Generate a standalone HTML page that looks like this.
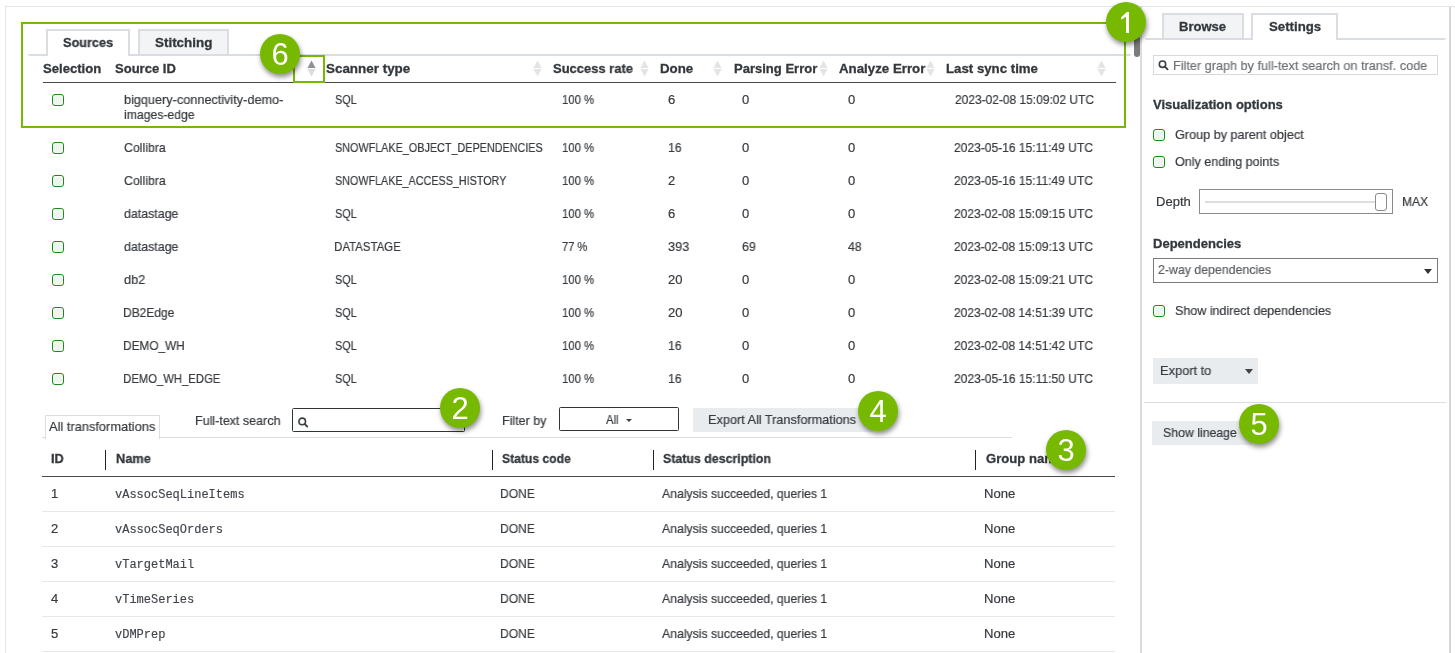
<!DOCTYPE html>
<html><head><meta charset="utf-8"><style>
html,body{margin:0;padding:0;background:#fff;width:1455px;height:653px;overflow:hidden;position:relative}
</style></head><body>
<div style="position:absolute;left:5px;top:6px;width:1450px;height:1px;background:#e1e4e8"></div>
<div style="position:absolute;left:5px;top:6px;width:1px;height:647px;background:#e1e4e8"></div>
<div style="position:absolute;left:1140px;top:6px;width:2px;height:647px;background:#d9dcdf"></div>
<div style="position:absolute;left:1449px;top:7px;width:2px;height:646px;background:#d4d7da"></div>
<div style="position:absolute;left:28px;top:54px;width:1103px;height:2px;background:#dadde1;border-radius:0 0 2px 2px"></div>
<div style="position:absolute;left:46px;top:29px;width:80px;height:25px;border:2px solid #dadde1;border-bottom:none;background:#fff"></div>
<div style="position:absolute;left:138px;top:29px;width:87px;height:23px;border:2px solid #dadde1;border-bottom:none;background:#f3f4f6"></div>
<div style="position:absolute;left:43px;top:82px;width:1073px;height:1px;background:#454a4f"></div>
<svg style="position:absolute;left:533.2px;top:60px" width="9" height="17" viewBox="0 0 9 17"><polygon points="0.4,8 4.5,0.4 8.6,8" fill="#e4e4e4"/><polygon points="0.4,9 4.5,16.6 8.6,9" fill="#e4e4e4"/></svg>
<svg style="position:absolute;left:639.5px;top:60px" width="9" height="17" viewBox="0 0 9 17"><polygon points="0.4,8 4.5,0.4 8.6,8" fill="#e4e4e4"/><polygon points="0.4,9 4.5,16.6 8.6,9" fill="#e4e4e4"/></svg>
<svg style="position:absolute;left:713.2px;top:60px" width="9" height="17" viewBox="0 0 9 17"><polygon points="0.4,8 4.5,0.4 8.6,8" fill="#e4e4e4"/><polygon points="0.4,9 4.5,16.6 8.6,9" fill="#e4e4e4"/></svg>
<svg style="position:absolute;left:819.3px;top:60px" width="9" height="17" viewBox="0 0 9 17"><polygon points="0.4,8 4.5,0.4 8.6,8" fill="#e4e4e4"/><polygon points="0.4,9 4.5,16.6 8.6,9" fill="#e4e4e4"/></svg>
<svg style="position:absolute;left:925.5px;top:60px" width="9" height="17" viewBox="0 0 9 17"><polygon points="0.4,8 4.5,0.4 8.6,8" fill="#e4e4e4"/><polygon points="0.4,9 4.5,16.6 8.6,9" fill="#e4e4e4"/></svg>
<svg style="position:absolute;left:1096.5px;top:60px" width="9" height="17" viewBox="0 0 9 17"><polygon points="0.4,8 4.5,0.4 8.6,8" fill="#e4e4e4"/><polygon points="0.4,9 4.5,16.6 8.6,9" fill="#e4e4e4"/></svg>
<svg style="position:absolute;left:306.5px;top:60px" width="9" height="17" viewBox="0 0 9 17"><polygon points="0.4,8 4.5,0.4 8.6,8" fill="#8e9296"/><polygon points="0.4,9 4.5,16.6 8.6,9" fill="#dcdcdc"/></svg>
<div style="position:absolute;left:52px;top:94px;width:10px;height:10px;border:1px solid #148f14;border-radius:3px;background:#eef4ee;box-shadow:inset 0 0 0 1px #fff"></div>
<div style="position:absolute;left:52px;top:142px;width:10px;height:10px;border:1px solid #148f14;border-radius:3px;background:#eef4ee;box-shadow:inset 0 0 0 1px #fff"></div>
<div style="position:absolute;left:52px;top:175px;width:10px;height:10px;border:1px solid #148f14;border-radius:3px;background:#eef4ee;box-shadow:inset 0 0 0 1px #fff"></div>
<div style="position:absolute;left:52px;top:208px;width:10px;height:10px;border:1px solid #148f14;border-radius:3px;background:#eef4ee;box-shadow:inset 0 0 0 1px #fff"></div>
<div style="position:absolute;left:52px;top:241px;width:10px;height:10px;border:1px solid #148f14;border-radius:3px;background:#eef4ee;box-shadow:inset 0 0 0 1px #fff"></div>
<div style="position:absolute;left:52px;top:274px;width:10px;height:10px;border:1px solid #148f14;border-radius:3px;background:#eef4ee;box-shadow:inset 0 0 0 1px #fff"></div>
<div style="position:absolute;left:52px;top:307px;width:10px;height:10px;border:1px solid #148f14;border-radius:3px;background:#eef4ee;box-shadow:inset 0 0 0 1px #fff"></div>
<div style="position:absolute;left:52px;top:340px;width:10px;height:10px;border:1px solid #148f14;border-radius:3px;background:#eef4ee;box-shadow:inset 0 0 0 1px #fff"></div>
<div style="position:absolute;left:52px;top:373px;width:10px;height:10px;border:1px solid #148f14;border-radius:3px;background:#eef4ee;box-shadow:inset 0 0 0 1px #fff"></div>
<div style="position:absolute;left:21px;top:22px;width:1101px;height:102px;border:2px solid #76b900"></div>
<div style="position:absolute;left:293px;top:55px;width:28px;height:24px;border:2px solid #76b900"></div>
<div style="position:absolute;left:42px;top:437px;width:970px;height:1px;background:#dadde1"></div>
<div style="position:absolute;left:45px;top:415px;width:113px;height:23px;border:1px solid #dadde1;border-bottom:none;background:#fff"></div>
<div style="position:absolute;left:292px;top:408px;width:171px;height:22px;border:1px solid #30353a;border-radius:1.5px;background:#fff"></div>
<svg style="position:absolute;left:297px;top:417px" width="12" height="12" viewBox="0 0 12 12"><circle cx="5.2" cy="4.4" r="3.3" fill="none" stroke="#3a3f44" stroke-width="1.6"/><line x1="7.6" y1="6.9" x2="10.2" y2="9.5" stroke="#3a3f44" stroke-width="1.8" stroke-linecap="round"/></svg>
<div style="position:absolute;left:559px;top:407px;width:118px;height:22px;border:1px solid #30353a;border-radius:1.5px;background:#fff"></div>
<svg style="position:absolute;left:626px;top:419px" width="6" height="3" viewBox="0 0 6 3"><polygon points="0,0 6,0 3,3" fill="#3d4247"/></svg>
<div style="position:absolute;left:693px;top:408px;width:180px;height:24px;background:#e9ecef"></div>
<div style="position:absolute;left:105px;top:450px;width:1px;height:20px;background:#222"></div>
<div style="position:absolute;left:492px;top:450px;width:1px;height:20px;background:#222"></div>
<div style="position:absolute;left:653px;top:450px;width:1px;height:20px;background:#222"></div>
<div style="position:absolute;left:975px;top:450px;width:1px;height:20px;background:#222"></div>
<div style="position:absolute;left:42px;top:476px;width:1073px;height:1px;background:#454a4f"></div>
<div style="position:absolute;left:42px;top:511px;width:1073px;height:1px;background:#e6e8eb"></div>
<div style="position:absolute;left:42px;top:546px;width:1073px;height:1px;background:#e6e8eb"></div>
<div style="position:absolute;left:42px;top:581px;width:1073px;height:1px;background:#e6e8eb"></div>
<div style="position:absolute;left:42px;top:616px;width:1073px;height:1px;background:#e6e8eb"></div>
<div style="position:absolute;left:42px;top:651px;width:1073px;height:1px;background:#e6e8eb"></div>
<div style="position:absolute;left:1145px;top:38px;width:301px;height:2px;background:#dadde1;border-radius:0 0 2px 2px"></div>
<div style="position:absolute;left:1162px;top:13px;width:78px;height:23px;border:2px solid #dadde1;border-bottom:none;background:#f3f4f6"></div>
<div style="position:absolute;left:1251px;top:13px;width:83px;height:25px;border:2px solid #dadde1;border-bottom:none;background:#fff"></div>
<div style="position:absolute;left:1153px;top:55px;width:283px;height:18px;border:1px solid #d6dadd;background:#fff"></div>
<svg style="position:absolute;left:1158px;top:60px" width="12" height="12" viewBox="0 0 12 12"><circle cx="4.5" cy="4.15" r="3.2" fill="none" stroke="#3a3f44" stroke-width="1.6"/><line x1="6.9" y1="6.6" x2="9.6" y2="9.3" stroke="#3a3f44" stroke-width="1.8" stroke-linecap="round"/></svg>
<div style="position:absolute;left:1153px;top:129px;width:10px;height:10px;border:1px solid #148f14;border-radius:3px;background:#eef4ee;box-shadow:inset 0 0 0 1px #fff"></div>
<div style="position:absolute;left:1153px;top:156px;width:10px;height:10px;border:1px solid #148f14;border-radius:3px;background:#eef4ee;box-shadow:inset 0 0 0 1px #fff"></div>
<div style="position:absolute;left:1199px;top:189px;width:192px;height:23px;border:1px solid #8a8a8a;background:#fff"></div>
<div style="position:absolute;left:1205px;top:201px;width:172px;height:2px;background:#dedede"></div>
<div style="position:absolute;left:1375px;top:193px;width:10px;height:16px;border:1px solid #8a8a8a;border-radius:3px;background:#fff"></div>
<div style="position:absolute;left:1153px;top:258px;width:283px;height:23px;border:1px solid #7a7a7a;background:#fff"></div>
<svg style="position:absolute;left:1424px;top:269px" width="8" height="5" viewBox="0 0 8 5"><polygon points="0,0 8,0 4,5" fill="#333"/></svg>
<div style="position:absolute;left:1153px;top:305px;width:10px;height:10px;border:1px solid #148f14;border-radius:3px;background:#eef4ee;box-shadow:inset 0 0 0 1px #fff"></div>
<div style="position:absolute;left:1153px;top:358px;width:105px;height:26px;background:#e9ecef"></div>
<svg style="position:absolute;left:1245px;top:369px" width="8" height="5" viewBox="0 0 8 5"><polygon points="0,0 8,0 4,5" fill="#444"/></svg>
<div style="position:absolute;left:1144px;top:402px;width:302px;height:1px;background:#d8dde2"></div>
<div style="position:absolute;left:1152px;top:421px;width:100px;height:24px;background:#e9ecef"></div>
<div style="position:absolute;left:1134px;top:36px;width:6px;height:21px;background:#7b7b7b;border-radius:3px"></div>
<div style="position:absolute;left:62.60px;top:35.00px;font:bold 13px/16px 'Liberation Sans', sans-serif;color:#33383d;white-space:nowrap;will-change:transform;-webkit-text-stroke:0.3px currentColor;transform:scaleX(0.9790);transform-origin:0.00px 0;">Sources</div>
<div style="position:absolute;left:154.70px;top:35.00px;font:bold 13px/16px 'Liberation Sans', sans-serif;color:#33383d;white-space:nowrap;will-change:transform;-webkit-text-stroke:0.3px currentColor;transform:scaleX(1.0312);transform-origin:0.00px 0;">Stitching</div>
<div style="position:absolute;left:42.80px;top:61.00px;font:bold 13px/16px 'Liberation Sans', sans-serif;color:#33383d;white-space:nowrap;will-change:transform;-webkit-text-stroke:0.3px currentColor;transform:scaleX(1.0077);transform-origin:0.00px 0;">Selection</div>
<div style="position:absolute;left:115.00px;top:61.00px;font:bold 13px/16px 'Liberation Sans', sans-serif;color:#33383d;white-space:nowrap;will-change:transform;-webkit-text-stroke:0.3px currentColor;transform:scaleX(1.0017);transform-origin:0.00px 0;">Source ID</div>
<div style="position:absolute;left:326.10px;top:61.00px;font:bold 13px/16px 'Liberation Sans', sans-serif;color:#33383d;white-space:nowrap;will-change:transform;-webkit-text-stroke:0.3px currentColor;transform:scaleX(1.0318);transform-origin:0.00px 0;">Scanner type</div>
<div style="position:absolute;left:552.90px;top:61.00px;font:bold 13px/16px 'Liberation Sans', sans-serif;color:#33383d;white-space:nowrap;will-change:transform;-webkit-text-stroke:0.3px currentColor;transform:scaleX(0.9964);transform-origin:0.00px 0;">Success rate</div>
<div style="position:absolute;left:659.60px;top:61.00px;font:bold 13px/16px 'Liberation Sans', sans-serif;color:#33383d;white-space:nowrap;will-change:transform;-webkit-text-stroke:0.3px currentColor;transform:scaleX(1.0226);transform-origin:0.00px 0;">Done</div>
<div style="position:absolute;left:733.80px;top:61.00px;font:bold 13px/16px 'Liberation Sans', sans-serif;color:#33383d;white-space:nowrap;will-change:transform;-webkit-text-stroke:0.3px currentColor;transform:scaleX(1.0021);transform-origin:0.00px 0;">Parsing Error</div>
<div style="position:absolute;left:839.00px;top:61.00px;font:bold 13px/16px 'Liberation Sans', sans-serif;color:#33383d;white-space:nowrap;will-change:transform;-webkit-text-stroke:0.3px currentColor;transform:scaleX(1.0216);transform-origin:0.00px 0;">Analyze Error</div>
<div style="position:absolute;left:946.00px;top:61.00px;font:bold 13px/16px 'Liberation Sans', sans-serif;color:#33383d;white-space:nowrap;will-change:transform;-webkit-text-stroke:0.3px currentColor;transform:scaleX(1.0179);transform-origin:0.00px 0;">Last sync time</div>
<div style="position:absolute;left:124.20px;top:92.00px;font:normal 13px/16px 'Liberation Sans', sans-serif;color:#363a3f;white-space:nowrap;will-change:transform;-webkit-text-stroke:0.2px currentColor;transform:scaleX(0.9757);transform-origin:0.00px 0;">bigquery-connectivity-demo-</div>
<div style="position:absolute;left:124.20px;top:107.00px;font:normal 13px/16px 'Liberation Sans', sans-serif;color:#363a3f;white-space:nowrap;will-change:transform;-webkit-text-stroke:0.2px currentColor;transform:scaleX(0.9383);transform-origin:0.00px 0;">images-edge</div>
<div style="position:absolute;left:335.00px;top:92.00px;font:normal 13px/16px 'Liberation Sans', sans-serif;color:#363a3f;white-space:nowrap;will-change:transform;-webkit-text-stroke:0.2px currentColor;transform:scaleX(0.8339);transform-origin:0.00px 0;">SQL</div>
<div style="position:absolute;left:562.40px;top:92.00px;font:normal 13px/16px 'Liberation Sans', sans-serif;color:#363a3f;white-space:nowrap;will-change:transform;-webkit-text-stroke:0.2px currentColor;transform:scaleX(0.8713);transform-origin:0.00px 0;">100 %</div>
<div style="position:absolute;left:668.40px;top:92.00px;font:normal 13px/16px 'Liberation Sans', sans-serif;color:#363a3f;white-space:nowrap;will-change:transform;-webkit-text-stroke:0.2px currentColor;">6</div>
<div style="position:absolute;left:742.20px;top:92.00px;font:normal 13px/16px 'Liberation Sans', sans-serif;color:#363a3f;white-space:nowrap;will-change:transform;-webkit-text-stroke:0.2px currentColor;">0</div>
<div style="position:absolute;left:848.20px;top:92.00px;font:normal 13px/16px 'Liberation Sans', sans-serif;color:#363a3f;white-space:nowrap;will-change:transform;-webkit-text-stroke:0.2px currentColor;">0</div>
<div style="position:absolute;left:954.50px;top:92.00px;font:normal 13px/16px 'Liberation Sans', sans-serif;color:#363a3f;white-space:nowrap;will-change:transform;-webkit-text-stroke:0.2px currentColor;transform:scaleX(0.9200);transform-origin:0.00px 0;">2023-02-08 15:09:02 UTC</div>
<div style="position:absolute;left:124.20px;top:140.00px;font:normal 13px/16px 'Liberation Sans', sans-serif;color:#363a3f;white-space:nowrap;will-change:transform;-webkit-text-stroke:0.2px currentColor;transform:scaleX(0.9478);transform-origin:0.00px 0;">Collibra</div>
<div style="position:absolute;left:335.00px;top:140.00px;font:normal 13px/16px 'Liberation Sans', sans-serif;color:#363a3f;white-space:nowrap;will-change:transform;-webkit-text-stroke:0.2px currentColor;transform:scaleX(0.8311);transform-origin:0.00px 0;">SNOWFLAKE_OBJECT_DEPENDENCIES</div>
<div style="position:absolute;left:562.40px;top:140.00px;font:normal 13px/16px 'Liberation Sans', sans-serif;color:#363a3f;white-space:nowrap;will-change:transform;-webkit-text-stroke:0.2px currentColor;transform:scaleX(0.8713);transform-origin:0.00px 0;">100 %</div>
<div style="position:absolute;left:667.90px;top:140.00px;font:normal 13px/16px 'Liberation Sans', sans-serif;color:#363a3f;white-space:nowrap;will-change:transform;-webkit-text-stroke:0.2px currentColor;transform:scaleX(0.9417);transform-origin:0.00px 0;">16</div>
<div style="position:absolute;left:742.20px;top:140.00px;font:normal 13px/16px 'Liberation Sans', sans-serif;color:#363a3f;white-space:nowrap;will-change:transform;-webkit-text-stroke:0.2px currentColor;">0</div>
<div style="position:absolute;left:848.20px;top:140.00px;font:normal 13px/16px 'Liberation Sans', sans-serif;color:#363a3f;white-space:nowrap;will-change:transform;-webkit-text-stroke:0.2px currentColor;">0</div>
<div style="position:absolute;left:954.40px;top:140.00px;font:normal 13px/16px 'Liberation Sans', sans-serif;color:#363a3f;white-space:nowrap;will-change:transform;-webkit-text-stroke:0.2px currentColor;transform:scaleX(0.9259);transform-origin:0.00px 0;">2023-05-16 15:11:49 UTC</div>
<div style="position:absolute;left:124.20px;top:173.00px;font:normal 13px/16px 'Liberation Sans', sans-serif;color:#363a3f;white-space:nowrap;will-change:transform;-webkit-text-stroke:0.2px currentColor;transform:scaleX(0.9478);transform-origin:0.00px 0;">Collibra</div>
<div style="position:absolute;left:335.00px;top:173.00px;font:normal 13px/16px 'Liberation Sans', sans-serif;color:#363a3f;white-space:nowrap;will-change:transform;-webkit-text-stroke:0.2px currentColor;transform:scaleX(0.8282);transform-origin:0.00px 0;">SNOWFLAKE_ACCESS_HISTORY</div>
<div style="position:absolute;left:562.40px;top:173.00px;font:normal 13px/16px 'Liberation Sans', sans-serif;color:#363a3f;white-space:nowrap;will-change:transform;-webkit-text-stroke:0.2px currentColor;transform:scaleX(0.8713);transform-origin:0.00px 0;">100 %</div>
<div style="position:absolute;left:667.90px;top:173.00px;font:normal 13px/16px 'Liberation Sans', sans-serif;color:#363a3f;white-space:nowrap;will-change:transform;-webkit-text-stroke:0.2px currentColor;">2</div>
<div style="position:absolute;left:742.20px;top:173.00px;font:normal 13px/16px 'Liberation Sans', sans-serif;color:#363a3f;white-space:nowrap;will-change:transform;-webkit-text-stroke:0.2px currentColor;">0</div>
<div style="position:absolute;left:848.20px;top:173.00px;font:normal 13px/16px 'Liberation Sans', sans-serif;color:#363a3f;white-space:nowrap;will-change:transform;-webkit-text-stroke:0.2px currentColor;">0</div>
<div style="position:absolute;left:954.40px;top:173.00px;font:normal 13px/16px 'Liberation Sans', sans-serif;color:#363a3f;white-space:nowrap;will-change:transform;-webkit-text-stroke:0.2px currentColor;transform:scaleX(0.9259);transform-origin:0.00px 0;">2023-05-16 15:11:49 UTC</div>
<div style="position:absolute;left:124.20px;top:206.00px;font:normal 13px/16px 'Liberation Sans', sans-serif;color:#363a3f;white-space:nowrap;will-change:transform;-webkit-text-stroke:0.2px currentColor;transform:scaleX(0.9530);transform-origin:0.00px 0;">datastage</div>
<div style="position:absolute;left:335.00px;top:206.00px;font:normal 13px/16px 'Liberation Sans', sans-serif;color:#363a3f;white-space:nowrap;will-change:transform;-webkit-text-stroke:0.2px currentColor;transform:scaleX(0.8339);transform-origin:0.00px 0;">SQL</div>
<div style="position:absolute;left:562.40px;top:206.00px;font:normal 13px/16px 'Liberation Sans', sans-serif;color:#363a3f;white-space:nowrap;will-change:transform;-webkit-text-stroke:0.2px currentColor;transform:scaleX(0.8713);transform-origin:0.00px 0;">100 %</div>
<div style="position:absolute;left:667.90px;top:206.00px;font:normal 13px/16px 'Liberation Sans', sans-serif;color:#363a3f;white-space:nowrap;will-change:transform;-webkit-text-stroke:0.2px currentColor;">6</div>
<div style="position:absolute;left:742.20px;top:206.00px;font:normal 13px/16px 'Liberation Sans', sans-serif;color:#363a3f;white-space:nowrap;will-change:transform;-webkit-text-stroke:0.2px currentColor;">0</div>
<div style="position:absolute;left:848.20px;top:206.00px;font:normal 13px/16px 'Liberation Sans', sans-serif;color:#363a3f;white-space:nowrap;will-change:transform;-webkit-text-stroke:0.2px currentColor;">0</div>
<div style="position:absolute;left:954.40px;top:206.00px;font:normal 13px/16px 'Liberation Sans', sans-serif;color:#363a3f;white-space:nowrap;will-change:transform;-webkit-text-stroke:0.2px currentColor;transform:scaleX(0.9200);transform-origin:0.00px 0;">2023-02-08 15:09:15 UTC</div>
<div style="position:absolute;left:124.20px;top:239.00px;font:normal 13px/16px 'Liberation Sans', sans-serif;color:#363a3f;white-space:nowrap;will-change:transform;-webkit-text-stroke:0.2px currentColor;transform:scaleX(0.9530);transform-origin:0.00px 0;">datastage</div>
<div style="position:absolute;left:334.00px;top:239.00px;font:normal 13px/16px 'Liberation Sans', sans-serif;color:#363a3f;white-space:nowrap;will-change:transform;-webkit-text-stroke:0.2px currentColor;transform:scaleX(0.8780);transform-origin:1.00px 0;">DATASTAGE</div>
<div style="position:absolute;left:562.40px;top:239.00px;font:normal 13px/16px 'Liberation Sans', sans-serif;color:#363a3f;white-space:nowrap;will-change:transform;-webkit-text-stroke:0.2px currentColor;transform:scaleX(0.8546);transform-origin:0.00px 0;">77 %</div>
<div style="position:absolute;left:667.90px;top:239.00px;font:normal 13px/16px 'Liberation Sans', sans-serif;color:#363a3f;white-space:nowrap;will-change:transform;-webkit-text-stroke:0.2px currentColor;transform:scaleX(0.9786);transform-origin:0.00px 0;">393</div>
<div style="position:absolute;left:742.20px;top:239.00px;font:normal 13px/16px 'Liberation Sans', sans-serif;color:#363a3f;white-space:nowrap;will-change:transform;-webkit-text-stroke:0.2px currentColor;transform:scaleX(0.9557);transform-origin:0.00px 0;">69</div>
<div style="position:absolute;left:848.20px;top:239.00px;font:normal 13px/16px 'Liberation Sans', sans-serif;color:#363a3f;white-space:nowrap;will-change:transform;-webkit-text-stroke:0.2px currentColor;transform:scaleX(0.9417);transform-origin:0.00px 0;">48</div>
<div style="position:absolute;left:954.40px;top:239.00px;font:normal 13px/16px 'Liberation Sans', sans-serif;color:#363a3f;white-space:nowrap;will-change:transform;-webkit-text-stroke:0.2px currentColor;transform:scaleX(0.9200);transform-origin:0.00px 0;">2023-02-08 15:09:13 UTC</div>
<div style="position:absolute;left:124.20px;top:272.00px;font:normal 13px/16px 'Liberation Sans', sans-serif;color:#363a3f;white-space:nowrap;will-change:transform;-webkit-text-stroke:0.2px currentColor;transform:scaleX(0.9786);transform-origin:0.00px 0;">db2</div>
<div style="position:absolute;left:335.00px;top:272.00px;font:normal 13px/16px 'Liberation Sans', sans-serif;color:#363a3f;white-space:nowrap;will-change:transform;-webkit-text-stroke:0.2px currentColor;transform:scaleX(0.8339);transform-origin:0.00px 0;">SQL</div>
<div style="position:absolute;left:562.40px;top:272.00px;font:normal 13px/16px 'Liberation Sans', sans-serif;color:#363a3f;white-space:nowrap;will-change:transform;-webkit-text-stroke:0.2px currentColor;transform:scaleX(0.8713);transform-origin:0.00px 0;">100 %</div>
<div style="position:absolute;left:667.90px;top:272.00px;font:normal 13px/16px 'Liberation Sans', sans-serif;color:#363a3f;white-space:nowrap;will-change:transform;-webkit-text-stroke:0.2px currentColor;transform:scaleX(0.9979);transform-origin:0.00px 0;">20</div>
<div style="position:absolute;left:742.20px;top:272.00px;font:normal 13px/16px 'Liberation Sans', sans-serif;color:#363a3f;white-space:nowrap;will-change:transform;-webkit-text-stroke:0.2px currentColor;">0</div>
<div style="position:absolute;left:848.20px;top:272.00px;font:normal 13px/16px 'Liberation Sans', sans-serif;color:#363a3f;white-space:nowrap;will-change:transform;-webkit-text-stroke:0.2px currentColor;">0</div>
<div style="position:absolute;left:954.40px;top:272.00px;font:normal 13px/16px 'Liberation Sans', sans-serif;color:#363a3f;white-space:nowrap;will-change:transform;-webkit-text-stroke:0.2px currentColor;transform:scaleX(0.9200);transform-origin:0.00px 0;">2023-02-08 15:09:21 UTC</div>
<div style="position:absolute;left:123.20px;top:305.00px;font:normal 13px/16px 'Liberation Sans', sans-serif;color:#363a3f;white-space:nowrap;will-change:transform;-webkit-text-stroke:0.2px currentColor;transform:scaleX(0.9188);transform-origin:1.00px 0;">DB2Edge</div>
<div style="position:absolute;left:335.00px;top:305.00px;font:normal 13px/16px 'Liberation Sans', sans-serif;color:#363a3f;white-space:nowrap;will-change:transform;-webkit-text-stroke:0.2px currentColor;transform:scaleX(0.8339);transform-origin:0.00px 0;">SQL</div>
<div style="position:absolute;left:562.40px;top:305.00px;font:normal 13px/16px 'Liberation Sans', sans-serif;color:#363a3f;white-space:nowrap;will-change:transform;-webkit-text-stroke:0.2px currentColor;transform:scaleX(0.8713);transform-origin:0.00px 0;">100 %</div>
<div style="position:absolute;left:667.90px;top:305.00px;font:normal 13px/16px 'Liberation Sans', sans-serif;color:#363a3f;white-space:nowrap;will-change:transform;-webkit-text-stroke:0.2px currentColor;transform:scaleX(0.9979);transform-origin:0.00px 0;">20</div>
<div style="position:absolute;left:742.20px;top:305.00px;font:normal 13px/16px 'Liberation Sans', sans-serif;color:#363a3f;white-space:nowrap;will-change:transform;-webkit-text-stroke:0.2px currentColor;">0</div>
<div style="position:absolute;left:848.20px;top:305.00px;font:normal 13px/16px 'Liberation Sans', sans-serif;color:#363a3f;white-space:nowrap;will-change:transform;-webkit-text-stroke:0.2px currentColor;">0</div>
<div style="position:absolute;left:954.40px;top:305.00px;font:normal 13px/16px 'Liberation Sans', sans-serif;color:#363a3f;white-space:nowrap;will-change:transform;-webkit-text-stroke:0.2px currentColor;transform:scaleX(0.9200);transform-origin:0.00px 0;">2023-02-08 14:51:39 UTC</div>
<div style="position:absolute;left:123.20px;top:338.00px;font:normal 13px/16px 'Liberation Sans', sans-serif;color:#363a3f;white-space:nowrap;will-change:transform;-webkit-text-stroke:0.2px currentColor;transform:scaleX(0.9068);transform-origin:1.00px 0;">DEMO_WH</div>
<div style="position:absolute;left:335.00px;top:338.00px;font:normal 13px/16px 'Liberation Sans', sans-serif;color:#363a3f;white-space:nowrap;will-change:transform;-webkit-text-stroke:0.2px currentColor;transform:scaleX(0.8339);transform-origin:0.00px 0;">SQL</div>
<div style="position:absolute;left:562.40px;top:338.00px;font:normal 13px/16px 'Liberation Sans', sans-serif;color:#363a3f;white-space:nowrap;will-change:transform;-webkit-text-stroke:0.2px currentColor;transform:scaleX(0.8713);transform-origin:0.00px 0;">100 %</div>
<div style="position:absolute;left:667.90px;top:338.00px;font:normal 13px/16px 'Liberation Sans', sans-serif;color:#363a3f;white-space:nowrap;will-change:transform;-webkit-text-stroke:0.2px currentColor;transform:scaleX(0.9417);transform-origin:0.00px 0;">16</div>
<div style="position:absolute;left:742.20px;top:338.00px;font:normal 13px/16px 'Liberation Sans', sans-serif;color:#363a3f;white-space:nowrap;will-change:transform;-webkit-text-stroke:0.2px currentColor;">0</div>
<div style="position:absolute;left:848.20px;top:338.00px;font:normal 13px/16px 'Liberation Sans', sans-serif;color:#363a3f;white-space:nowrap;will-change:transform;-webkit-text-stroke:0.2px currentColor;">0</div>
<div style="position:absolute;left:954.40px;top:338.00px;font:normal 13px/16px 'Liberation Sans', sans-serif;color:#363a3f;white-space:nowrap;will-change:transform;-webkit-text-stroke:0.2px currentColor;transform:scaleX(0.9200);transform-origin:0.00px 0;">2023-02-08 14:51:42 UTC</div>
<div style="position:absolute;left:123.20px;top:371.00px;font:normal 13px/16px 'Liberation Sans', sans-serif;color:#363a3f;white-space:nowrap;will-change:transform;-webkit-text-stroke:0.2px currentColor;transform:scaleX(0.8680);transform-origin:1.00px 0;">DEMO_WH_EDGE</div>
<div style="position:absolute;left:335.00px;top:371.00px;font:normal 13px/16px 'Liberation Sans', sans-serif;color:#363a3f;white-space:nowrap;will-change:transform;-webkit-text-stroke:0.2px currentColor;transform:scaleX(0.8339);transform-origin:0.00px 0;">SQL</div>
<div style="position:absolute;left:562.40px;top:371.00px;font:normal 13px/16px 'Liberation Sans', sans-serif;color:#363a3f;white-space:nowrap;will-change:transform;-webkit-text-stroke:0.2px currentColor;transform:scaleX(0.8713);transform-origin:0.00px 0;">100 %</div>
<div style="position:absolute;left:667.90px;top:371.00px;font:normal 13px/16px 'Liberation Sans', sans-serif;color:#363a3f;white-space:nowrap;will-change:transform;-webkit-text-stroke:0.2px currentColor;transform:scaleX(0.9417);transform-origin:0.00px 0;">16</div>
<div style="position:absolute;left:742.20px;top:371.00px;font:normal 13px/16px 'Liberation Sans', sans-serif;color:#363a3f;white-space:nowrap;will-change:transform;-webkit-text-stroke:0.2px currentColor;">0</div>
<div style="position:absolute;left:848.20px;top:371.00px;font:normal 13px/16px 'Liberation Sans', sans-serif;color:#363a3f;white-space:nowrap;will-change:transform;-webkit-text-stroke:0.2px currentColor;">0</div>
<div style="position:absolute;left:954.40px;top:371.00px;font:normal 13px/16px 'Liberation Sans', sans-serif;color:#363a3f;white-space:nowrap;will-change:transform;-webkit-text-stroke:0.2px currentColor;transform:scaleX(0.9259);transform-origin:0.00px 0;">2023-05-16 15:11:50 UTC</div>
<div style="position:absolute;left:48.80px;top:419.00px;font:normal 13px/16px 'Liberation Sans', sans-serif;color:#363a3f;white-space:nowrap;will-change:transform;-webkit-text-stroke:0.2px currentColor;transform:scaleX(0.9866);transform-origin:0.00px 0;">All transformations</div>
<div style="position:absolute;left:194.50px;top:413.00px;font:normal 13px/16px 'Liberation Sans', sans-serif;color:#363a3f;white-space:nowrap;will-change:transform;-webkit-text-stroke:0.2px currentColor;transform:scaleX(0.9608);transform-origin:1.00px 0;">Full-text search</div>
<div style="position:absolute;left:501.60px;top:413.00px;font:normal 13px/16px 'Liberation Sans', sans-serif;color:#363a3f;white-space:nowrap;will-change:transform;-webkit-text-stroke:0.2px currentColor;transform:scaleX(0.9600);transform-origin:1.00px 0;">Filter by</div>
<div style="position:absolute;left:606.00px;top:412.00px;font:normal 13px/16px 'Liberation Sans', sans-serif;color:#363a3f;white-space:nowrap;will-change:transform;-webkit-text-stroke:0.2px currentColor;transform:scaleX(0.8723);transform-origin:0.00px 0;">All</div>
<div style="position:absolute;left:707.60px;top:412.00px;font:normal 13px/16px 'Liberation Sans', sans-serif;color:#363a3f;white-space:nowrap;will-change:transform;-webkit-text-stroke:0.2px currentColor;transform:scaleX(0.9752);transform-origin:1.00px 0;">Export All Transformations</div>
<div style="position:absolute;left:50.60px;top:451.00px;font:bold 13px/16px 'Liberation Sans', sans-serif;color:#33383d;white-space:nowrap;will-change:transform;-webkit-text-stroke:0.3px currentColor;transform:scaleX(0.9832);transform-origin:0.00px 0;">ID</div>
<div style="position:absolute;left:115.60px;top:451.00px;font:bold 13px/16px 'Liberation Sans', sans-serif;color:#33383d;white-space:nowrap;will-change:transform;-webkit-text-stroke:0.3px currentColor;transform:scaleX(0.9836);transform-origin:0.00px 0;">Name</div>
<div style="position:absolute;left:501.90px;top:451.00px;font:bold 13px/16px 'Liberation Sans', sans-serif;color:#33383d;white-space:nowrap;will-change:transform;-webkit-text-stroke:0.3px currentColor;transform:scaleX(0.9339);transform-origin:0.00px 0;">Status code</div>
<div style="position:absolute;left:663.00px;top:451.00px;font:bold 13px/16px 'Liberation Sans', sans-serif;color:#33383d;white-space:nowrap;will-change:transform;-webkit-text-stroke:0.3px currentColor;transform:scaleX(0.9518);transform-origin:0.00px 0;">Status description</div>
<div style="position:absolute;left:985.60px;top:451.00px;font:bold 13px/16px 'Liberation Sans', sans-serif;color:#33383d;white-space:nowrap;will-change:transform;-webkit-text-stroke:0.3px currentColor;transform:scaleX(1.0087);transform-origin:0.00px 0;">Group name</div>
<div style="position:absolute;left:51.30px;top:486.00px;font:normal 13px/16px 'Liberation Sans', sans-serif;color:#363a3f;white-space:nowrap;will-change:transform;-webkit-text-stroke:0.2px currentColor;">1</div>
<div style="position:absolute;left:115.30px;top:487.00px;font:normal 12px/16px 'Liberation Mono', monospace;color:#3f444a;white-space:nowrap;will-change:transform;-webkit-text-stroke:0.15px currentColor;">vAssocSeqLineItems</div>
<div style="position:absolute;left:500.40px;top:486.00px;font:normal 13px/16px 'Liberation Sans', sans-serif;color:#363a3f;white-space:nowrap;will-change:transform;-webkit-text-stroke:0.2px currentColor;transform:scaleX(0.9217);transform-origin:1.00px 0;">DONE</div>
<div style="position:absolute;left:662.30px;top:486.00px;font:normal 13px/16px 'Liberation Sans', sans-serif;color:#363a3f;white-space:nowrap;will-change:transform;-webkit-text-stroke:0.2px currentColor;transform:scaleX(0.9409);transform-origin:0.00px 0;">Analysis succeeded, queries 1</div>
<div style="position:absolute;left:984.00px;top:486.00px;font:normal 13px/16px 'Liberation Sans', sans-serif;color:#363a3f;white-space:nowrap;will-change:transform;-webkit-text-stroke:0.2px currentColor;transform:scaleX(1.0051);transform-origin:1.00px 0;">None</div>
<div style="position:absolute;left:51.30px;top:521.00px;font:normal 13px/16px 'Liberation Sans', sans-serif;color:#363a3f;white-space:nowrap;will-change:transform;-webkit-text-stroke:0.2px currentColor;">2</div>
<div style="position:absolute;left:115.30px;top:522.00px;font:normal 12px/16px 'Liberation Mono', monospace;color:#3f444a;white-space:nowrap;will-change:transform;-webkit-text-stroke:0.15px currentColor;">vAssocSeqOrders</div>
<div style="position:absolute;left:500.40px;top:521.00px;font:normal 13px/16px 'Liberation Sans', sans-serif;color:#363a3f;white-space:nowrap;will-change:transform;-webkit-text-stroke:0.2px currentColor;transform:scaleX(0.9217);transform-origin:1.00px 0;">DONE</div>
<div style="position:absolute;left:662.30px;top:521.00px;font:normal 13px/16px 'Liberation Sans', sans-serif;color:#363a3f;white-space:nowrap;will-change:transform;-webkit-text-stroke:0.2px currentColor;transform:scaleX(0.9409);transform-origin:0.00px 0;">Analysis succeeded, queries 1</div>
<div style="position:absolute;left:984.00px;top:521.00px;font:normal 13px/16px 'Liberation Sans', sans-serif;color:#363a3f;white-space:nowrap;will-change:transform;-webkit-text-stroke:0.2px currentColor;transform:scaleX(1.0051);transform-origin:1.00px 0;">None</div>
<div style="position:absolute;left:51.30px;top:556.00px;font:normal 13px/16px 'Liberation Sans', sans-serif;color:#363a3f;white-space:nowrap;will-change:transform;-webkit-text-stroke:0.2px currentColor;">3</div>
<div style="position:absolute;left:115.30px;top:557.00px;font:normal 12px/16px 'Liberation Mono', monospace;color:#3f444a;white-space:nowrap;will-change:transform;-webkit-text-stroke:0.15px currentColor;">vTargetMail</div>
<div style="position:absolute;left:500.40px;top:556.00px;font:normal 13px/16px 'Liberation Sans', sans-serif;color:#363a3f;white-space:nowrap;will-change:transform;-webkit-text-stroke:0.2px currentColor;transform:scaleX(0.9217);transform-origin:1.00px 0;">DONE</div>
<div style="position:absolute;left:662.30px;top:556.00px;font:normal 13px/16px 'Liberation Sans', sans-serif;color:#363a3f;white-space:nowrap;will-change:transform;-webkit-text-stroke:0.2px currentColor;transform:scaleX(0.9409);transform-origin:0.00px 0;">Analysis succeeded, queries 1</div>
<div style="position:absolute;left:984.00px;top:556.00px;font:normal 13px/16px 'Liberation Sans', sans-serif;color:#363a3f;white-space:nowrap;will-change:transform;-webkit-text-stroke:0.2px currentColor;transform:scaleX(1.0051);transform-origin:1.00px 0;">None</div>
<div style="position:absolute;left:51.30px;top:591.00px;font:normal 13px/16px 'Liberation Sans', sans-serif;color:#363a3f;white-space:nowrap;will-change:transform;-webkit-text-stroke:0.2px currentColor;">4</div>
<div style="position:absolute;left:115.30px;top:592.00px;font:normal 12px/16px 'Liberation Mono', monospace;color:#3f444a;white-space:nowrap;will-change:transform;-webkit-text-stroke:0.15px currentColor;">vTimeSeries</div>
<div style="position:absolute;left:500.40px;top:591.00px;font:normal 13px/16px 'Liberation Sans', sans-serif;color:#363a3f;white-space:nowrap;will-change:transform;-webkit-text-stroke:0.2px currentColor;transform:scaleX(0.9217);transform-origin:1.00px 0;">DONE</div>
<div style="position:absolute;left:662.30px;top:591.00px;font:normal 13px/16px 'Liberation Sans', sans-serif;color:#363a3f;white-space:nowrap;will-change:transform;-webkit-text-stroke:0.2px currentColor;transform:scaleX(0.9409);transform-origin:0.00px 0;">Analysis succeeded, queries 1</div>
<div style="position:absolute;left:984.00px;top:591.00px;font:normal 13px/16px 'Liberation Sans', sans-serif;color:#363a3f;white-space:nowrap;will-change:transform;-webkit-text-stroke:0.2px currentColor;transform:scaleX(1.0051);transform-origin:1.00px 0;">None</div>
<div style="position:absolute;left:51.30px;top:626.00px;font:normal 13px/16px 'Liberation Sans', sans-serif;color:#363a3f;white-space:nowrap;will-change:transform;-webkit-text-stroke:0.2px currentColor;">5</div>
<div style="position:absolute;left:115.30px;top:627.00px;font:normal 12px/16px 'Liberation Mono', monospace;color:#3f444a;white-space:nowrap;will-change:transform;-webkit-text-stroke:0.15px currentColor;">vDMPrep</div>
<div style="position:absolute;left:500.40px;top:626.00px;font:normal 13px/16px 'Liberation Sans', sans-serif;color:#363a3f;white-space:nowrap;will-change:transform;-webkit-text-stroke:0.2px currentColor;transform:scaleX(0.9217);transform-origin:1.00px 0;">DONE</div>
<div style="position:absolute;left:662.30px;top:626.00px;font:normal 13px/16px 'Liberation Sans', sans-serif;color:#363a3f;white-space:nowrap;will-change:transform;-webkit-text-stroke:0.2px currentColor;transform:scaleX(0.9409);transform-origin:0.00px 0;">Analysis succeeded, queries 1</div>
<div style="position:absolute;left:984.00px;top:626.00px;font:normal 13px/16px 'Liberation Sans', sans-serif;color:#363a3f;white-space:nowrap;will-change:transform;-webkit-text-stroke:0.2px currentColor;transform:scaleX(1.0051);transform-origin:1.00px 0;">None</div>
<div style="position:absolute;left:1179.10px;top:19.00px;font:bold 13px/16px 'Liberation Sans', sans-serif;color:#33383d;white-space:nowrap;will-change:transform;-webkit-text-stroke:0.3px currentColor;transform:scaleX(1.0036);transform-origin:0.00px 0;">Browse</div>
<div style="position:absolute;left:1268.50px;top:19.00px;font:bold 13px/16px 'Liberation Sans', sans-serif;color:#33383d;white-space:nowrap;will-change:transform;-webkit-text-stroke:0.3px currentColor;transform:scaleX(1.0166);transform-origin:0.00px 0;">Settings</div>
<div style="position:absolute;left:1173.00px;top:58.00px;font:normal 13px/16px 'Liberation Sans', sans-serif;color:#6e7276;white-space:nowrap;will-change:transform;-webkit-text-stroke:0.2px currentColor;transform:scaleX(0.9745);transform-origin:1.00px 0;">Filter graph by full-text search on transf. code</div>
<div style="position:absolute;left:1152.60px;top:97.00px;font:bold 13px/16px 'Liberation Sans', sans-serif;color:#33383d;white-space:nowrap;will-change:transform;-webkit-text-stroke:0.3px currentColor;transform:scaleX(1.0005);transform-origin:0.00px 0;">Visualization options</div>
<div style="position:absolute;left:1175.00px;top:127.00px;font:normal 13px/16px 'Liberation Sans', sans-serif;color:#363a3f;white-space:nowrap;will-change:transform;-webkit-text-stroke:0.2px currentColor;transform:scaleX(0.9726);transform-origin:0.00px 0;">Group by parent object</div>
<div style="position:absolute;left:1175.00px;top:154.00px;font:normal 13px/16px 'Liberation Sans', sans-serif;color:#363a3f;white-space:nowrap;will-change:transform;-webkit-text-stroke:0.2px currentColor;transform:scaleX(0.9669);transform-origin:0.00px 0;">Only ending points</div>
<div style="position:absolute;left:1155.70px;top:194.00px;font:normal 13px/16px 'Liberation Sans', sans-serif;color:#363a3f;white-space:nowrap;will-change:transform;-webkit-text-stroke:0.2px currentColor;transform:scaleX(1.0012);transform-origin:1.00px 0;">Depth</div>
<div style="position:absolute;left:1401.60px;top:194.00px;font:normal 13px/16px 'Liberation Sans', sans-serif;color:#363a3f;white-space:nowrap;will-change:transform;-webkit-text-stroke:0.2px currentColor;transform:scaleX(0.9236);transform-origin:1.00px 0;">MAX</div>
<div style="position:absolute;left:1153.00px;top:236.00px;font:bold 13px/16px 'Liberation Sans', sans-serif;color:#33383d;white-space:nowrap;will-change:transform;-webkit-text-stroke:0.3px currentColor;transform:scaleX(1.0010);transform-origin:0.00px 0;">Dependencies</div>
<div style="position:absolute;left:1158.40px;top:262.00px;font:normal 13px/16px 'Liberation Sans', sans-serif;color:#5a5e62;white-space:nowrap;will-change:transform;-webkit-text-stroke:0.2px currentColor;transform:scaleX(0.9487);transform-origin:0.00px 0;">2-way dependencies</div>
<div style="position:absolute;left:1175.00px;top:303.00px;font:normal 13px/16px 'Liberation Sans', sans-serif;color:#363a3f;white-space:nowrap;will-change:transform;-webkit-text-stroke:0.2px currentColor;transform:scaleX(0.9601);transform-origin:0.00px 0;">Show indirect dependencies</div>
<div style="position:absolute;left:1160.00px;top:363.00px;font:normal 13px/16px 'Liberation Sans', sans-serif;color:#363a3f;white-space:nowrap;will-change:transform;-webkit-text-stroke:0.2px currentColor;transform:scaleX(0.9843);transform-origin:1.00px 0;">Export to</div>
<div style="position:absolute;left:1163.00px;top:425.00px;font:normal 13px/16px 'Liberation Sans', sans-serif;color:#363a3f;white-space:nowrap;will-change:transform;-webkit-text-stroke:0.2px currentColor;transform:scaleX(0.9457);transform-origin:0.00px 0;">Show lineage</div>
<div style="position:absolute;left:1106px;top:2px;width:40px;height:40px;border-radius:50%;background:#76b900;box-shadow:1px 3px 5px rgba(0,0,0,0.45);color:#fff;font-family:'Liberation Sans', sans-serif;font-size:31px;line-height:41px;text-align:center;will-change:transform"><svg style="position:absolute;left:0;top:0" width="40" height="40" viewBox="0 0 40 40"><polygon points="20,30.9 23,30.9 23,10.1 20.8,10.1 15.2,15.3 15.2,17.8 20,14.8" fill="#fff"/></svg></div>
<div style="position:absolute;left:440px;top:388px;width:40px;height:40px;border-radius:50%;background:#76b900;box-shadow:1px 3px 5px rgba(0,0,0,0.45);color:#fff;font-family:'Liberation Sans', sans-serif;font-size:31px;line-height:41px;text-align:center;will-change:transform">2</div>
<div style="position:absolute;left:1046px;top:430px;width:40px;height:40px;border-radius:50%;background:#76b900;box-shadow:1px 3px 5px rgba(0,0,0,0.45);color:#fff;font-family:'Liberation Sans', sans-serif;font-size:31px;line-height:41px;text-align:center;will-change:transform">3</div>
<div style="position:absolute;left:858px;top:391px;width:40px;height:40px;border-radius:50%;background:#76b900;box-shadow:1px 3px 5px rgba(0,0,0,0.45);color:#fff;font-family:'Liberation Sans', sans-serif;font-size:31px;line-height:41px;text-align:center;will-change:transform">4</div>
<div style="position:absolute;left:1239px;top:404px;width:40px;height:40px;border-radius:50%;background:#76b900;box-shadow:1px 3px 5px rgba(0,0,0,0.45);color:#fff;font-family:'Liberation Sans', sans-serif;font-size:31px;line-height:41px;text-align:center;will-change:transform">5</div>
<div style="position:absolute;left:260px;top:34px;width:40px;height:40px;border-radius:50%;background:#76b900;box-shadow:1px 3px 5px rgba(0,0,0,0.45);color:#fff;font-family:'Liberation Sans', sans-serif;font-size:31px;line-height:41px;text-align:center;will-change:transform">6</div>
</body></html>
